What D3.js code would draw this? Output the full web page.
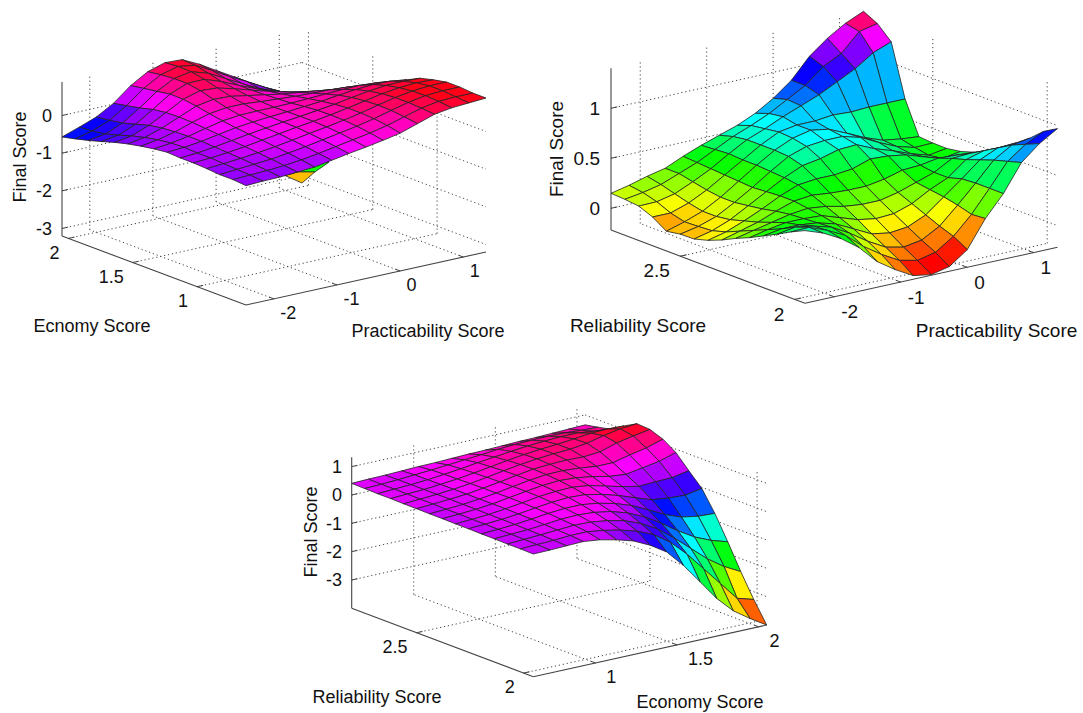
<!DOCTYPE html>
<html>
<head>
<meta charset="utf-8">
<title>Final Score surfaces</title>
<script src="https://cdn.jsdelivr.net/npm/d3@7"></script>
<style>
  body { margin: 0; background: #fff; }
  text { font-family: "Liberation Sans", Arial, sans-serif; fill: #111; }
</style>
</head>
<body>
<svg id="chart" width="1083" height="713"></svg>
<script>
// Axis ticks
const practicabilityTicks = [-2, -1, 0, 1];
const economyTicks = [1, 1.5, 2];
const reliabilityTicks = [2, 2.5];
const finalTicksA = [-3, -2, -1, 0];
const finalTicksB = [0, 0.5, 1];
const finalTicksC = [-3, -2, -1, 0, 1];

// Final Score on a 15x15 grid, rows = y axis (low to high), columns = x axis (low to high)
const surfaceA = [
  [-0.03, -0.01, 0, 0.03, 0.06, 0.14, 0.22, 0.29, 0.37, 0.46, 0.61, 0.76, 0.83, 0.86, 0.89],
  [0, 0.02, 0.04, 0.07, 0.12, 0.19, 0.27, 0.35, 0.43, 0.53, 0.66, 0.79, 0.87, 0.89, 0.89],
  [0, 0.04, 0.07, 0.11, 0.17, 0.24, 0.32, 0.4, 0.48, 0.58, 0.7, 0.81, 0.89, 0.92, 0.92],
  [0.03, 0.06, 0.1, 0.15, 0.21, 0.28, 0.36, 0.43, 0.51, 0.6, 0.71, 0.81, 0.88, 0.92, 0.92],
  [0.05, 0.08, 0.12, 0.18, 0.25, 0.32, 0.39, 0.45, 0.52, 0.6, 0.69, 0.78, 0.84, 0.87, 0.85],
  [0.05, 0.08, 0.14, 0.21, 0.28, 0.34, 0.4, 0.45, 0.51, 0.57, 0.65, 0.72, 0.77, 0.78, 0.76],
  [0.07, 0.1, 0.16, 0.24, 0.32, 0.37, 0.41, 0.44, 0.48, 0.52, 0.58, 0.63, 0.66, 0.65, 0.59],
  [0.03, 0.08, 0.16, 0.27, 0.37, 0.42, 0.43, 0.43, 0.44, 0.46, 0.48, 0.5, 0.51, 0.48, 0.4],
  [-0.03, 0.04, 0.15, 0.3, 0.43, 0.49, 0.49, 0.45, 0.42, 0.39, 0.37, 0.36, 0.33, 0.28, 0.17],
  [-0.1, -0.03, 0.12, 0.31, 0.5, 0.58, 0.56, 0.48, 0.4, 0.32, 0.26, 0.2, 0.14, 0.07, -0.03],
  [-0.19, -0.12, 0.06, 0.3, 0.55, 0.68, 0.65, 0.53, 0.39, 0.26, 0.14, 0.05, -0.05, -0.15, -0.25],
  [-0.3, -0.23, -0.04, 0.25, 0.56, 0.74, 0.75, 0.59, 0.39, 0.2, 0.03, -0.1, -0.25, -0.35, -0.41],
  [-0.4, -0.33, -0.14, 0.16, 0.5, 0.74, 0.82, 0.68, 0.44, 0.2, -0.03, -0.2, -0.36, -1.84, -2.4],
  [-0.49, -0.38, -0.2, 0.09, 0.45, 0.71, 0.83, 0.76, 0.52, 0.26, 0.03, -0.22, -0.44, -2.67, -2.77],
  [-0.57, -0.41, -0.24, 0.02, 0.39, 0.66, 0.8, 0.78, 0.56, 0.29, 0.03, -0.24, -0.48, -2.9, -3.2],
];

const surfaceB = [
  [0.51, 0.446, 0.35, 0.22, 0.04, -0.08, -0.18, -0.21, -0.17, -0.04, 0.23, 0.44, 0.71, 0.86, 0.97],
  [0.445, 0.45, 0.38, 0.29, 0.14, 0.02, -0.08, -0.12, -0.08, 0.04, 0.22, 0.44, 0.67, 0.8, 0.89],
  [0.37, 0.4, 0.37, 0.32, 0.22, 0.1, 0, -0.04, -0.01, 0.09, 0.26, 0.44, 0.63, 0.74, 0.77],
  [0.3, 0.33, 0.33, 0.31, 0.26, 0.17, 0.08, 0.05, 0.07, 0.15, 0.29, 0.43, 0.58, 0.66, 0.67],
  [0.23, 0.27, 0.3, 0.3, 0.29, 0.23, 0.17, 0.14, 0.15, 0.21, 0.31, 0.39, 0.53, 0.58, 0.575],
  [0.17, 0.21, 0.25, 0.29, 0.31, 0.29, 0.25, 0.23, 0.23, 0.27, 0.33, 0.39, 0.49, 0.5, 0.49],
  [0.102, 0.15, 0.2, 0.27, 0.33, 0.35, 0.33, 0.32, 0.32, 0.35, 0.4, 0.41, 0.44, 0.43, 0.42],
  [0.046, 0.09, 0.16, 0.24, 0.33, 0.4, 0.42, 0.42, 0.44, 0.5, 0.49, 0.46, 0.4, 0.345, 0.375],
  [0.007, 0.05, 0.12, 0.22, 0.32, 0.42, 0.5, 0.53, 0.58, 0.59, 0.51, 0.45, 0.38, 0.325, 0.353],
  [0.003, 0.04, 0.1, 0.2, 0.31, 0.43, 0.54, 0.6, 0.62, 0.62, 0.57, 0.48, 0.4, 0.35, 0.355],
  [-0.02, 0.034, 0.1, 0.2, 0.32, 0.44, 0.55, 0.63, 0.67, 0.64, 0.56, 0.476, 0.41, 0.383, 0.366],
  [0.07, 0.07, 0.13, 0.22, 0.33, 0.44, 0.55, 0.64, 0.67, 0.67, 0.69, 0.68, 0.69, 0.69, 0.69],
  [0.127, 0.13, 0.17, 0.25, 0.34, 0.45, 0.55, 0.62, 0.7, 0.77, 0.84, 0.93, 1.02, 1.14, 1.21],
  [0.142, 0.17, 0.21, 0.28, 0.35, 0.44, 0.53, 0.6, 0.68, 0.78, 0.88, 1.03, 1.12, 1.3, 1.34],
  [0.15, 0.19, 0.24, 0.28, 0.36, 0.43, 0.49, 0.55, 0.63, 0.74, 0.88, 1.08, 1.22, 1.33, 1.41],
];

const surfaceC = [
  [0.33, 0.34, 0.36, 0.38, 0.31, 0.18, 0.01, -0.27, -0.64, -1.24, -1.95, -2.67, -3.24, -3.64, -4],
  [0.34, 0.36, 0.38, 0.42, 0.42, 0.34, 0.22, 0.05, -0.2, -0.6, -1.15, -1.8, -2.45, -3.1, -3.27],
  [0.34, 0.37, 0.4, 0.44, 0.48, 0.46, 0.38, 0.25, 0.02, -0.3, -0.75, -1.25, -1.75, -2.15, -2.46],
  [0.35, 0.38, 0.41, 0.46, 0.52, 0.54, 0.5, 0.4, 0.22, -0.05, -0.4, -0.8, -1.15, -1.4, -1.58],
  [0.35, 0.38, 0.42, 0.48, 0.55, 0.6, 0.6, 0.52, 0.38, 0.18, -0.1, -0.4, -0.62, -0.72, -0.75],
  [0.36, 0.39, 0.43, 0.49, 0.57, 0.64, 0.68, 0.65, 0.53, 0.36, 0.15, -0.05, -0.12, -0.15, -0.04],
  [0.36, 0.39, 0.43, 0.5, 0.58, 0.67, 0.72, 0.74, 0.67, 0.52, 0.37, 0.25, 0.28, 0.3, 0.41],
  [0.37, 0.4, 0.44, 0.5, 0.59, 0.68, 0.76, 0.8, 0.77, 0.68, 0.56, 0.5, 0.6, 0.7, 0.88],
  [0.37, 0.4, 0.44, 0.5, 0.58, 0.68, 0.77, 0.84, 0.85, 0.81, 0.74, 0.74, 0.88, 1.0, 1.18],
  [0.38, 0.41, 0.45, 0.5, 0.58, 0.67, 0.77, 0.86, 0.9, 0.92, 0.9, 0.95, 1.13, 1.25, 1.35],
  [0.38, 0.41, 0.45, 0.5, 0.57, 0.66, 0.76, 0.85, 0.92, 0.97, 1.0, 1.08, 1.22, 1.33, 1.38],
  [0.39, 0.42, 0.45, 0.5, 0.56, 0.64, 0.73, 0.82, 0.9, 0.96, 1.0, 1.06, 1.13, 1.15, 1.13],
  [0.39, 0.42, 0.45, 0.49, 0.55, 0.62, 0.7, 0.77, 0.84, 0.9, 0.94, 0.97, 0.97, 0.9, 0.84],
  [0.4, 0.42, 0.45, 0.49, 0.53, 0.58, 0.63, 0.68, 0.74, 0.78, 0.8, 0.81, 0.8, 0.76, 0.74],
  [0.41, 0.43, 0.44, 0.46, 0.48, 0.49, 0.51, 0.53, 0.54, 0.56, 0.58, 0.59, 0.61, 0.63, 0.65],
];

const svg = d3.select("#chart");

// Box corners on the floor (front, left, right) and label spots for each panel
const panels = [
  {
    surface: surfaceA,
    front: [246, 305], left: [62, 236], right: [486, 252], zHeight: 154,
    xDomain: [-2.44, 1.36], yDomain: [0.62, 2.05], zDomain: [-3.2, 0.89],
    xTicks: practicabilityTicks, yTicks: economyTicks, zTicks: finalTicksA,
    xOffset: [6.5, 14], yOffset: [-9, 14], zLabelX: 52, fontSize: 18,
    zTitle: [20, 157], xTitle: ["Practicability Score", 428, 331], yTitle: ["Ecnomy Score", 92, 326],
  },
  {
    surface: surfaceB,
    front: [805, 303.3], left: [611, 230], right: [1057.5, 247.3], zHeight: 161.7,
    xDomain: [-2.44, 1.36], yDomain: [1.955, 2.803], zDomain: [-0.217, 1.4],
    xTicks: practicabilityTicks, yTicks: reliabilityTicks, zTicks: finalTicksB,
    xOffset: [7, 15], yOffset: [-10.5, 14.5], zLabelX: 600, fontSize: 19,
    zTitle: [556.5, 149], xTitle: ["Practicability Score", 996.5, 330], yTitle: ["Reliability Score", 638, 325],
  },
  {
    surface: surfaceC,
    front: [533.3, 676.7], left: [351.7, 608.3], right: [766.7, 625], zHeight: 151,
    xDomain: [0.62, 2.05], yDomain: [1.955, 2.803], zDomain: [-4, 1.33],
    xTicks: economyTicks, yTicks: reliabilityTicks, zTicks: finalTicksC,
    xOffset: [11, 14], yOffset: [-9, 13.5], zLabelX: 342, fontSize: 18,
    zTitle: [311, 532], xTitle: ["Economy Score", 700, 702], yTitle: ["Reliability Score", 377, 697],
  },
];

panels.forEach(drawPanel);

function drawPanel(p) {
  const [x0, x1] = p.xDomain;
  const [y0, y1] = p.yDomain;
  const [z0, z1] = p.zDomain;

  // One scale per screen direction of each data axis
  const xToPx = d3.scaleLinear().domain(p.xDomain).range([0, p.right[0] - p.front[0]]);
  const xToPy = d3.scaleLinear().domain(p.xDomain).range([0, p.right[1] - p.front[1]]);
  const yToPx = d3.scaleLinear().domain(p.yDomain).range([0, p.left[0] - p.front[0]]);
  const yToPy = d3.scaleLinear().domain(p.yDomain).range([0, p.left[1] - p.front[1]]);
  const zToPy = d3.scaleLinear().domain(p.zDomain).range([0, -p.zHeight]);

  const project = (x, y, z) => [
    p.front[0] + xToPx(x) + yToPx(y),
    p.front[1] + xToPy(x) + yToPy(y) + zToPy(z),
  ];

  const g = svg.append("g");
  const line = d3.line();

  // Dotted grid on floor and both back walls
  const gridSegments = [];
  p.xTicks.forEach((t) => {
    gridSegments.push([project(t, y0, z0), project(t, y1, z0)]);
    gridSegments.push([project(t, y1, z0), project(t, y1, z1)]);
  });
  p.yTicks.forEach((t) => {
    gridSegments.push([project(x0, t, z0), project(x1, t, z0)]);
    gridSegments.push([project(x1, t, z0), project(x1, t, z1)]);
  });
  p.zTicks.forEach((t) => {
    gridSegments.push([project(x0, y1, t), project(x1, y1, t)]);
    gridSegments.push([project(x1, y1, t), project(x1, y0, t)]);
  });
  g.selectAll("path.grid")
    .data(gridSegments)
    .enter()
    .append("path")
    .attr("class", "grid")
    .attr("d", line)
    .attr("fill", "none")
    .attr("stroke", "#444")
    .attr("stroke-width", 1)
    .attr("stroke-dasharray", "1.2 2.8");

  // Axis lines
  const axisSegments = [
    [project(x0, y0, z0), project(x1, y0, z0)],
    [project(x0, y0, z0), project(x0, y1, z0)],
    [project(x0, y1, z0), project(x0, y1, z1)],
  ];
  g.selectAll("path.axis")
    .data(axisSegments)
    .enter()
    .append("path")
    .attr("class", "axis")
    .attr("d", line)
    .attr("fill", "none")
    .attr("stroke", "#444")
    .attr("stroke-width", 1.1);

  // Tick marks
  const tickY = (y1 - y0) * 0.025;
  const tickX = (x1 - x0) * 0.025;
  const tickSegments = [
    ...p.xTicks.map((t) => [project(t, y0, z0), project(t, y0 + tickY, z0)]),
    ...p.yTicks.map((t) => [project(x0, t, z0), project(x0 + tickX, t, z0)]),
    ...p.zTicks.map((t) => [project(x0, y1, t), project(x0 + tickX, y1, t)]),
  ];
  g.selectAll("path.tick")
    .data(tickSegments)
    .enter()
    .append("path")
    .attr("class", "tick")
    .attr("d", line)
    .attr("fill", "none")
    .attr("stroke", "#444")
    .attr("stroke-width", 1);

  // Surface cells, far corner first so nearer cells paint over
  const n = p.surface.length - 1;
  const colX = d3.scaleLinear().domain([0, n]).range(p.xDomain);
  const rowY = d3.scaleLinear().domain([0, n]).range(p.yDomain);
  const hsvMap = d3
    .scaleQuantize()
    .domain(d3.extent(p.surface.flat()))
    .range(d3.range(64).map((k) => d3.hsl((k / 64) * 360, 1, 0.5).formatHex()));

  const cells = [];
  for (let r = n - 1; r >= 0; r--) {
    for (let c = n - 1; c >= 0; c--) {
      cells.push({ r, c });
    }
  }
  const vertex = (r, c) => project(colX(c), rowY(r), p.surface[r][c]);

  g.selectAll("path.cell")
    .data(cells)
    .enter()
    .append("path")
    .attr("class", "cell")
    .attr("d", (d) =>
      line([
        vertex(d.r, d.c),
        vertex(d.r, d.c + 1),
        vertex(d.r + 1, d.c + 1),
        vertex(d.r + 1, d.c),
      ]) + "Z",
    )
    .attr("fill", (d) => hsvMap(p.surface[d.r][d.c]))
    .attr("stroke", "#222")
    .attr("stroke-width", 0.8)
    .attr("stroke-linejoin", "round");

  // Tick labels
  p.xTicks.forEach((t) => {
    const [px, py] = project(t, y0, z0);
    g.append("text")
      .attr("x", px + p.xOffset[0])
      .attr("y", py + p.xOffset[1])
      .attr("dy", "0.35em")
      .attr("font-size", p.fontSize)
      .text(t);
  });
  p.yTicks.forEach((t) => {
    const [px, py] = project(x0, t, z0);
    g.append("text")
      .attr("x", px + p.yOffset[0])
      .attr("y", py + p.yOffset[1])
      .attr("dy", "0.35em")
      .attr("text-anchor", "end")
      .attr("font-size", p.fontSize)
      .text(t);
  });
  p.zTicks.forEach((t) => {
    const py = project(x0, y1, t)[1];
    g.append("text")
      .attr("x", p.zLabelX)
      .attr("y", py)
      .attr("dy", "0.35em")
      .attr("text-anchor", "end")
      .attr("font-size", p.fontSize)
      .text(t);
  });

  // Axis titles
  [p.xTitle, p.yTitle].forEach(([label, tx, ty]) => {
    g.append("text")
      .attr("x", tx)
      .attr("y", ty)
      .attr("dy", "0.35em")
      .attr("text-anchor", "middle")
      .attr("font-size", p.fontSize)
      .text(label);
  });
  g.append("text")
    .attr("transform", `translate(${p.zTitle[0]},${p.zTitle[1]}) rotate(-90)`)
    .attr("dy", "0.35em")
    .attr("text-anchor", "middle")
    .attr("font-size", p.fontSize)
    .text("Final Score");
}
</script>
</body>
</html>
